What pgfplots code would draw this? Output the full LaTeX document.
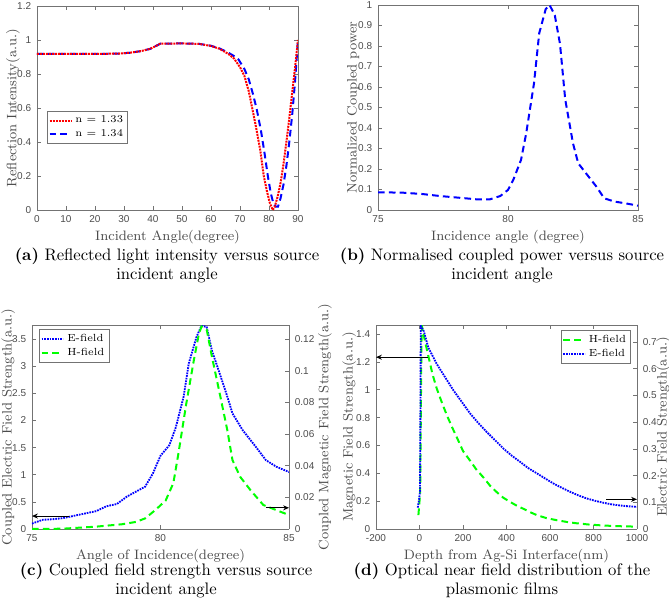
\documentclass[border=0pt]{standalone}
\usepackage{fontspec}
\usepackage{pgfplots}
\pgfplotsset{compat=1.18}
\usetikzlibrary{arrows.meta}
\newfontfamily\ticksans{Liberation Sans}
\definecolor{mgreen}{rgb}{0,1,0}
\tikzset{
 reddot/.style={red, line width=1.2pt, dash pattern=on 1.2pt off 0.6pt},
 bluedash/.style={blue, line width=1.2pt, dash pattern=on 4pt off 2.5pt},
 bluedot/.style={blue, line width=1.1pt, dash pattern=on 1pt off 0.6pt},
 greendash/.style={mgreen, line width=1.2pt, dash pattern=on 4pt off 2.5pt},
 arr/.style={-{Stealth[length=3.5pt,width=3pt]}, black, line width=0.5pt, solid},
}
\pgfplotsset{
 mat/.style={
  scale only axis,
  axis line style={black!55, line width=0.4pt},
  tick style={black!55, line width=0.4pt},
  tick align=inside, major tick length=2.5pt,
  tick label style={font=\ticksans\fontsize{6}{7}\selectfont, text=black!70},
  /pgf/number format/assume math mode=true,
  /pgf/number format/1000 sep={},
  scaled ticks=false,
  label style={font=\fontsize{8.2}{9}\selectfont, text=black!70},
  xlabel style={yshift=2.5pt},
  legend style={font=\fontsize{6.2}{7}\selectfont, draw=black!55, line width=0.4pt, inner sep=0.8pt, row sep=-1.5pt},
  legend cell align=left,
  legend image code/.code={\draw[#1] (0cm,0cm) -- (0.45cm,0cm);},
 },
 ylab/.style={ylabel style={at={(axis description cs:#1,0.5)}, anchor=center}},
}
\begin{document}
\begin{tikzpicture}
\useasboundingbox (0,0) rectangle (401.4pt,362.4pt);
% ---------- (a)
\begin{axis}[mat, at={(22.2pt,236.4pt)}, anchor=south west, width=156.6pt, height=122.4pt,
  xmin=0, xmax=90, ymin=0, ymax=1.2, xtick={0,10,...,90}, ytick={0,0.2,...,1.2},
  xlabel={Incident Angle(degree)}, ylabel={Reflection Intensity(a.u.)}, ylab=-0.092,
  legend style={at={(0.038,0.485)}, anchor=north west}]
\addplot[bluedash, forget plot] coordinates {(0,0.918)(20,0.918)(28,0.92)(32,0.925)(36,0.935)(39,0.948)(41,0.965)(42.5,0.978)(50,0.98)(56,0.977)(60,0.966)(63,0.95)(66,0.925)(68,0.905)(69.5,0.885)(71.5,0.83)(73,0.77)(74.5,0.68)(75.8,0.59)(77.2,0.47)(78.5,0.33)(79.6,0.2)(80.6,0.1)(81.5,0.04)(82.3,0.02)(83.1,0.02)(84,0.07)(85,0.15)(86,0.26)(87,0.4)(88,0.56)(89,0.76)(90,1.0)};
\addplot[reddot] coordinates {(0,0.918)(20,0.918)(28,0.92)(32,0.925)(36,0.935)(39,0.948)(41,0.965)(42.5,0.978)(50,0.98)(56,0.977)(60,0.965)(63,0.948)(66,0.918)(68,0.89)(70,0.84)(71.5,0.79)(73,0.70)(74.2,0.60)(75.5,0.49)(77,0.35)(78.2,0.2)(79.3,0.11)(80.3,0.04)(81.3,0.0)(82,0.02)(83,0.08)(84,0.16)(85,0.27)(86,0.4)(87,0.54)(88,0.69)(89,0.84)(90,1.0)};
\addlegendentry{n = 1.33}
\addlegendimage{bluedash}
\addlegendentry{n = 1.34}
\end{axis}
% ---------- (b)
\begin{axis}[mat, at={(226.8pt,236.4pt)}, anchor=south west, width=156pt, height=123pt,
  xmin=75, xmax=85, ymin=0, ymax=1, xtick={75,80,85}, ytick={0,0.1,...,1.0},
  xlabel={Incidence angle (degree)}, ylabel={Normalized Coupled power}, ylab=-0.096]
\addplot[bluedash] coordinates {(75,0.086)(75.9,0.085)(76.7,0.078)(77.4,0.068)(78.2,0.059)(78.8,0.052)(79.3,0.052)(79.7,0.068)(80.0,0.098)(80.2,0.146)(80.5,0.244)(80.7,0.374)(81.0,0.618)(81.2,0.862)(81.45,0.98)(81.6,1.0)(81.8,0.95)(82.0,0.81)(82.2,0.54)(82.5,0.325)(82.7,0.228)(83.0,0.179)(83.4,0.114)(83.7,0.057)(84.1,0.041)(84.5,0.033)(85,0.021)};
\end{axis}
% ---------- (c)
\begin{axis}[mat, at={(19.2pt,45pt)}, anchor=south west, width=154.2pt, height=122.4pt,
  axis y line*=left, xmin=75, xmax=85, ymin=0, ymax=3.76, xtick={75,80,85}, ytick={0,0.5,...,3.5},
  xlabel={Angle of Incidence(degree)}, ylabel={Coupled Electric Field Strength(a.u.)}, ylab=-0.093]
\addplot[bluedot] coordinates {(75,0.10)(75.42,0.17)(75.8,0.18)(76.2,0.20)(76.6,0.24)(77.1,0.29)(77.5,0.33)(77.9,0.42)(78.3,0.46)(78.7,0.60)(79.05,0.69)(79.4,0.78)(79.7,1.02)(80.0,1.35)(80.35,1.55)(80.6,1.88)(80.9,2.44)(81.1,3.05)(81.4,3.54)(81.6,3.75)(81.8,3.72)(82.0,3.29)(82.3,2.87)(82.6,2.44)(82.8,2.13)(83.2,1.82)(83.7,1.52)(84.1,1.27)(84.5,1.15)(85,1.05)};
\end{axis}
\begin{axis}[mat, at={(19.2pt,45pt)}, anchor=south west, width=154.2pt, height=122.4pt,
  axis y line*=right, axis x line=none, xmin=75, xmax=85, ymin=0, ymax=0.129,
  ytick={0,0.02,...,0.12}, yticklabel style={/pgf/number format/fixed, /pgf/number format/precision=2},
  ylabel={Coupled Magnetic Field Strength(a.u.)}, ylab=1.14,
  legend style={at={(0.027,0.98)}, anchor=north west}]
\addlegendimage{bluedot}
\addlegendentry{E-field}
\addplot[greendash] coordinates {(75,0.0)(76.2,0.0002)(77.5,0.0015)(78.5,0.003)(79.05,0.0045)(79.4,0.0067)(79.8,0.012)(80.2,0.018)(80.5,0.029)(80.7,0.048)(81.0,0.079)(81.3,0.107)(81.5,0.124)(81.6,0.128)(81.8,0.126)(82.0,0.109)(82.3,0.086)(82.6,0.0625)(82.8,0.0436)(83.1,0.033)(83.5,0.0246)(84.0,0.0152)(84.5,0.012)(85,0.0088)};
\addlegendentry{H-field}
\draw[arr] (axis cs:76.45,0.0082) -- (axis cs:75,0.0082);
\draw[arr] (axis cs:84.1,0.0134) -- (axis cs:85,0.0134);
\end{axis}
% ---------- (d)
\begin{axis}[mat, at={(225.6pt,45pt)}, anchor=south west, width=156.6pt, height=122.4pt,
  axis y line*=left, xmin=-200, xmax=1000, ymin=0, ymax=1.465, xtick={-200,0,...,1000}, ytick={0,0.2,...,1.4},
  xlabel={Depth from Ag-Si Interface(nm)}, ylabel={Magnetic Field Strength(a.u.)}, ylab=-0.103]
\addplot[greendash] coordinates {(-5,0.10)(0,0.20)(3,0.26)(5,0.6)(7,1.0)(9,1.35)(12,1.45)(25,1.35)(41,1.24)(60,1.11)(79,1.01)(100,0.92)(125,0.82)(150,0.73)(171,0.66)(200,0.56)(233,0.49)(260,0.43)(294,0.37)(325,0.31)(355,0.265)(385,0.225)(416,0.195)(450,0.165)(478,0.145)(510,0.12)(539,0.10)(580,0.08)(631,0.063)(680,0.05)(723,0.041)(780,0.032)(846,0.025)(920,0.02)(1000,0.017)};
\node[anchor=south west, inner sep=0.5pt, font=\ticksans\fontsize{5.5}{6}\selectfont, text=black!70] at (rel axis cs:0,1) {×10\textsuperscript{-3}};
\end{axis}
\begin{axis}[mat, at={(225.6pt,45pt)}, anchor=south west, width=156.6pt, height=122.4pt,
  axis y line*=right, axis x line=none, xmin=-200, xmax=1000, ymin=0, ymax=0.7635,
  ytick={0,0.1,...,0.7}, ylabel={Electric Field Strength(a.u.)}, ylab=1.10,
  legend style={at={(0.977,0.975)}, anchor=north east}]
\addlegendimage{greendash}
\addlegendentry{H-field}
\addplot[bluedot] coordinates {(-8,0.08)(-2,0.11)(2,0.14)(3.5,0.3)(4.5,0.5)(5.5,0.7)(6,0.76)(20,0.74)(40,0.68)(79,0.618)(120,0.565)(156,0.519)(195,0.475)(233,0.432)(270,0.397)(309,0.363)(350,0.33)(386,0.301)(425,0.274)(463,0.251)(500,0.228)(540,0.208)(580,0.188)(616,0.170)(655,0.154)(693,0.139)(730,0.126)(770,0.114)(810,0.105)(847,0.098)(885,0.092)(923,0.088)(960,0.085)(1000,0.083)};
\addlegendentry{E-field}
\draw[arr] (axis cs:41,0.643) -- (axis cs:-200,0.643);
\draw[arr] (axis cs:859,0.111) -- (axis cs:1000,0.111);
\end{axis}
% ---------- captions
\node[align=center, font=\fontsize{10}{11.4}\selectfont] at (100.2pt,203.1pt) {\textbf{(a)} Reflected light intensity versus source\\incident angle};
\node[align=center, font=\fontsize{10}{11.4}\selectfont] at (301.2pt,203.1pt) {\textbf{(b)} Normalised coupled power versus source\\incident angle};
\node[align=center, font=\fontsize{10}{11.4}\selectfont] at (99.6pt,14pt) {\textbf{(c)} Coupled field strength versus source\\incident angle};
\node[align=center, font=\fontsize{10}{11.4}\selectfont] at (301.2pt,14pt) {\textbf{(d)} Optical near field distribution of the\\plasmonic films};
\end{tikzpicture}
\end{document}
